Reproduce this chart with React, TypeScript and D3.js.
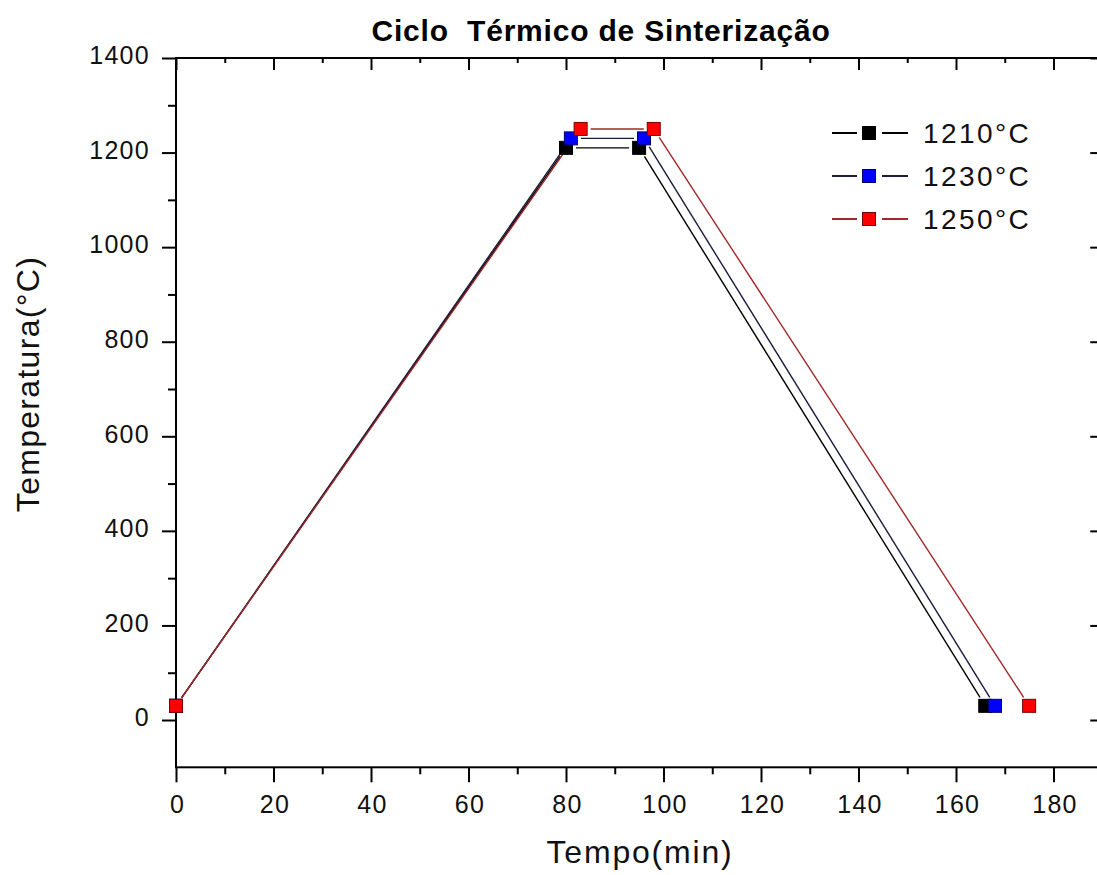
import React, { useRef, useEffect } from 'react';
import { select, scaleLinear, axisBottom, axisLeft, axisTop, axisRight, range } from 'd3';

// data
const seriesNames = ['1210°C', '1230°C', '1250°C'];
const times1210 = [0, 80, 95, 166];
const temps1210 = [30, 1210, 1210, 30];
const times1230 = [0, 81, 96, 168];
const temps1230 = [30, 1230, 1230, 30];
const times1250 = [0, 83, 98, 175];
const temps1250 = [30, 1250, 1250, 30];

const xMajorTicks = [0, 20, 40, 60, 80, 100, 120, 140, 160, 180];
const yMajorTicks = [0, 200, 400, 600, 800, 1000, 1200, 1400];

const markerFill = ['#000000', '#0000ff', '#ff0000'];
const markerStroke = ['#000000', '#00006a', '#7a0000'];
const lineColor = ['#000000', '#1c1c40', '#a02828'];

const W = 1097;
const H = 875;
const FONT = "'Liberation Sans', Arial, sans-serif";

export default function App() {
  const svgRef = useRef<SVGSVGElement>(null);

  useEffect(() => {
    const svg = select(svgRef.current);
    svg.selectAll('*').remove();

    const x = scaleLinear().domain([0, 190]).range([176, 1102.25]);
    const y = scaleLinear().domain([-100, 1400]).range([767.3, 58]);

    const series = [
      { name: seriesNames[0], t: times1210, v: temps1210 },
      { name: seriesNames[1], t: times1230, v: temps1230 },
      { name: seriesNames[2], t: times1250, v: temps1250 },
    ];

    // frame
    svg.append('rect')
      .attr('x', x(0)).attr('y', y(1400))
      .attr('width', x(190) - x(0)).attr('height', y(-100) - y(1400))
      .attr('fill', 'none').attr('stroke', '#000').attr('stroke-width', 2);

    const xMinor = range(10, 190, 20);
    const yMinor = range(100, 1400, 200);

    const styleAxis = (g: any) => {
      g.select('.domain').remove();
      g.selectAll('line').attr('stroke-width', 2);
      g.selectAll('text')
        .attr('font-family', FONT)
        .attr('font-size', 25)
        .attr('letter-spacing', 1.3)
        .attr('fill', '#111');
    };

    // bottom
    const bottom = svg.append('g').attr('transform', `translate(0,${y(-100)})`)
      .call(axisBottom(x).tickValues(xMajorTicks).tickSize(15).tickPadding(13).tickFormat((d: any) => String(d)))
      .call(styleAxis);
    bottom.selectAll('text').attr('dx', 1);
    svg.append('g').attr('transform', `translate(0,${y(-100)})`)
      .call(axisBottom(x).tickValues(xMinor).tickSize(7).tickFormat(() => ''))
      .call(styleAxis);

    // left
    const left = svg.append('g').attr('transform', `translate(${x(0)},0)`)
      .call(axisLeft(y).tickValues(yMajorTicks).tickSize(14).tickPadding(12).tickFormat((d: any) => String(d)))
      .call(styleAxis);
    left.selectAll('text').attr('dy', '0.23em');
    svg.append('g').attr('transform', `translate(${x(0)},0)`)
      .call(axisLeft(y).tickValues(yMinor).tickSize(8).tickFormat(() => ''))
      .call(styleAxis);

    // top (inward)
    svg.append('g').attr('transform', `translate(0,${y(1400)})`)
      .call(axisTop(x).tickValues(xMajorTicks).tickSize(-12).tickFormat(() => ''))
      .call(styleAxis);
    svg.append('g').attr('transform', `translate(0,${y(1400)})`)
      .call(axisTop(x).tickValues(xMinor).tickSize(-5).tickFormat(() => ''))
      .call(styleAxis);

    // right (inward)
    svg.append('g').attr('transform', `translate(${x(190)},0)`)
      .call(axisRight(y).tickValues(yMajorTicks).tickSize(-12).tickFormat(() => ''))
      .call(styleAxis);
    svg.append('g').attr('transform', `translate(${x(190)},0)`)
      .call(axisRight(y).tickValues(yMinor).tickSize(-5).tickFormat(() => ''))
      .call(styleAxis);

    // lines with a gap round each marker, Origin style
    const gap = 10;
    series.forEach((s, si) => {
      for (let i = 0; i < s.t.length - 1; i++) {
        const x0 = x(s.t[i]), y0 = y(s.v[i]);
        const x1 = x(s.t[i + 1]), y1 = y(s.v[i + 1]);
        const len = Math.hypot(x1 - x0, y1 - y0);
        const ux = (x1 - x0) / len, uy = (y1 - y0) / len;
        svg.append('line')
          .attr('x1', x0 + ux * gap).attr('y1', y0 + uy * gap)
          .attr('x2', x1 - ux * gap).attr('y2', y1 - uy * gap)
          .attr('stroke', lineColor[si])
          .attr('stroke-width', 1.4);
      }
    });

    const ms = 13;
    series.forEach((s, si) => {
      svg.append('g')
        .selectAll('rect')
        .data(s.t.map((t, i) => [t, s.v[i]]))
        .join('rect')
        .attr('x', d => x(d[0]) - ms / 2)
        .attr('y', d => y(d[1]) - ms / 2)
        .attr('width', ms).attr('height', ms)
        .attr('fill', markerFill[si])
        .attr('stroke', markerStroke[si])
        .attr('stroke-width', 1);
    });

    // legend
    const lg = svg.append('g');
    series.forEach((s, si) => {
      const cy = 133 + si * 43;
      lg.append('line').attr('x1', 832).attr('x2', 857).attr('y1', cy).attr('y2', cy)
        .attr('stroke', lineColor[si]).attr('stroke-width', 2);
      lg.append('line').attr('x1', 882).attr('x2', 908).attr('y1', cy).attr('y2', cy)
        .attr('stroke', lineColor[si]).attr('stroke-width', 2);
      lg.append('rect').attr('x', 869 - ms / 2).attr('y', cy - ms / 2)
        .attr('width', ms).attr('height', ms)
        .attr('fill', markerFill[si]).attr('stroke', markerStroke[si]);
      lg.append('text').attr('x', 923).attr('y', cy + 10)
        .attr('font-family', FONT).attr('font-size', 28).attr('letter-spacing', 2.4)
        .attr('fill', '#111')
        .text(s.name);
    });

    // titles
    svg.append('text')
      .attr('x', 601).attr('y', 41)
      .attr('text-anchor', 'middle')
      .attr('font-family', FONT).attr('font-size', 30).attr('font-weight', 'bold')
      .attr('letter-spacing', 0.8)
      .style('white-space', 'pre')
      .text('Ciclo  Térmico de Sinterização');

    svg.append('text')
      .attr('x', 640).attr('y', 863)
      .attr('text-anchor', 'middle')
      .attr('font-family', FONT).attr('font-size', 32).attr('letter-spacing', 1.8)
      .attr('fill', '#111')
      .text('Tempo(min)');

    svg.append('text')
      .attr('transform', 'translate(39,384) rotate(-90)')
      .attr('text-anchor', 'middle')
      .attr('font-family', FONT).attr('font-size', 32).attr('letter-spacing', 1.3)
      .attr('fill', '#111')
      .text('Temperatura(°C)');
  }, []);

  return (
    <svg ref={svgRef} width={W} height={H}
      style={{ position: 'absolute', left: 0, top: 0, background: '#fff', display: 'block' }} />
  );
}
